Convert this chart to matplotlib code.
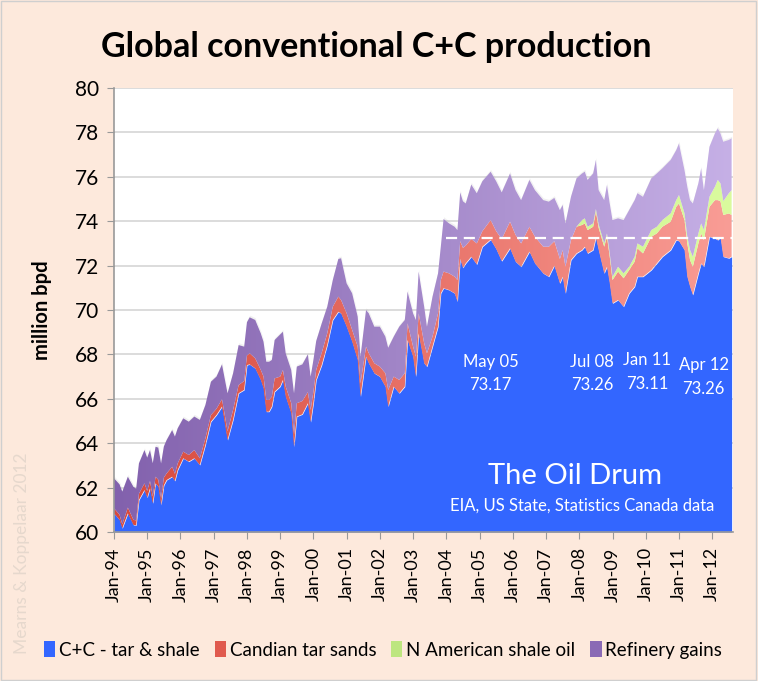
import numpy as np
import matplotlib.pyplot as plt
from matplotlib.colors import LinearSegmentedColormap
from matplotlib.patches import Patch, Rectangle

plt.rcParams['font.family'] = ['Lato', 'DejaVu Sans']

# month offsets from Jan-94, values in million bpd
months = [0, 2, 3, 5, 7, 8, 9, 11,
          12, 13, 14, 15, 16, 17, 18, 19, 21, 22, 23,
          25, 27, 29, 31, 33, 35,
          37, 39, 41, 43, 45, 47,
          48, 49, 51, 53, 54, 55, 56, 57, 58,
          60, 61, 62, 64, 65, 66, 68, 70, 71,
          72, 73, 75, 77, 79, 81, 82,
          84, 86, 88, 89, 91, 92, 94,
          96, 98, 99, 101, 103, 105, 106,
          108, 109, 110, 112, 113, 115, 117, 118, 119,
          121, 123, 124, 125, 126, 127, 129, 131,
          133, 136, 138, 140, 143,
          145, 147, 150, 152, 155,
          157, 159, 161, 162, 163, 165, 167,
          169, 170, 171, 173, 174, 175, 177, 178, 179,
          180, 182, 184, 186, 188, 189, 191,
          194, 196, 198, 201, 203,
          204, 206, 207, 208, 209, 211, 212, 213, 215,
          217, 218, 219, 220, 222, 223]

crude = [60.84, 60.55, 60.17, 60.84, 60.32, 60.30, 61.44, 61.89,
         61.55, 61.97, 61.29, 62.19, 62.05, 61.22, 62.10, 62.34, 62.49, 62.30, 62.79,
         63.32, 63.17, 63.32, 63.02, 63.92, 64.97,
         65.27, 65.65, 64.14, 65.05, 66.25, 66.40,
         67.52, 67.55, 67.37, 66.85, 66.47, 65.42, 65.42, 65.65, 66.32,
         66.55, 66.85, 66.10, 65.35, 63.84, 65.20, 65.30, 65.80, 64.95,
         65.80, 66.85, 67.52, 68.42, 69.55, 69.92, 69.85,
         69.25, 68.57, 67.75, 66.10, 67.90, 67.60, 67.15,
         67.00, 66.55, 65.65, 66.55, 66.25, 66.55, 68.65,
         67.90, 67.00, 68.95, 67.60, 67.45, 68.35, 69.25, 70.75, 70.98,
         70.90, 70.75, 70.38, 72.30, 71.90, 72.10, 72.40, 72.05,
         72.85, 73.17, 72.75, 72.20, 72.78,
         72.18, 71.95, 72.63, 72.10, 71.65,
         71.50, 72.00, 71.20, 71.50, 70.75, 72.25, 72.55,
         72.70, 72.85, 72.55, 72.70, 73.26, 72.70, 71.65, 71.95, 71.20,
         70.30, 70.45, 70.15, 70.75, 71.05, 71.50, 71.50,
         71.80, 72.10, 72.40, 72.70, 73.15,
         73.11, 72.70, 71.50, 71.05, 70.68, 71.65, 72.10, 71.95, 73.30,
         73.23, 73.15, 73.26, 72.40, 72.33, 72.40]

tar_sands = [0.23, 0.23, 0.18, 0.26, 0.23, 0.22, 0.28, 0.30,
             0.30, 0.33, 0.31, 0.30, 0.30, 0.28, 0.35, 0.30, 0.45, 0.32, 0.30,
             0.30, 0.30, 0.37, 0.30, 0.30, 0.30,
             0.28, 0.33, 0.40, 0.45, 0.37, 0.40,
             0.43, 0.50, 0.45, 0.45, 0.53, 0.53, 0.53, 0.45, 0.60,
             0.45, 0.45, 0.45, 0.45, 0.56, 0.60, 0.60, 0.50, 0.55,
             0.52, 0.45, 0.55, 0.53, 0.60, 0.68, 0.60,
             0.60, 0.53, 0.60, 0.60, 0.45, 0.45, 0.45,
             0.45, 0.60, 0.75, 0.45, 0.60, 0.60, 0.75,
             0.45, 0.90, 0.90, 0.90, 0.60, 0.45, 0.60, 0.60, 0.75,
             0.75, 0.75, 0.97, 0.80, 0.90, 0.80, 0.80, 0.95,
             0.70, 0.88, 0.80, 1.00, 1.20,
             1.20, 1.05, 1.12, 1.20, 1.20,
             1.35, 1.10, 1.10, 1.20, 1.20, 0.90, 1.20,
             1.13, 1.05, 1.05, 1.05, 1.17, 1.00, 1.20, 1.35, 1.20,
             1.05, 1.28, 1.28, 1.05, 1.13, 1.28, 1.05,
             1.50, 1.35, 1.35, 1.28, 1.50,
             1.69, 1.35, 1.50, 1.20, 1.27, 1.35, 1.35, 1.20, 1.35,
             1.72, 1.80, 1.64, 1.88, 2.02, 1.88]

shale_oil = [0.0, 0.0, 0.0, 0.0, 0.0, 0.0, 0.0, 0.0,
             0.0, 0.0, 0.0, 0.0, 0.0, 0.0, 0.0, 0.0, 0.0, 0.0, 0.0,
             0.0, 0.0, 0.0, 0.0, 0.0, 0.0,
             0.0, 0.0, 0.0, 0.0, 0.0, 0.0,
             0.0, 0.0, 0.0, 0.0, 0.0, 0.0, 0.0, 0.0, 0.0,
             0.0, 0.0, 0.0, 0.0, 0.0, 0.0, 0.0, 0.0, 0.0,
             0.0, 0.0, 0.0, 0.0, 0.0, 0.0, 0.0,
             0.0, 0.0, 0.0, 0.0, 0.0, 0.0, 0.0,
             0.0, 0.0, 0.0, 0.0, 0.0, 0.0, 0.0,
             0.0, 0.0, 0.0, 0.0, 0.0, 0.0, 0.0, 0.0, 0.0,
             0.0, 0.0, 0.0, 0.0, 0.0, 0.0, 0.0, 0.0,
             0.0, 0.0, 0.0, 0.0, 0.0,
             0.0, 0.0, 0.0, 0.0, 0.0,
             0.0, 0.0, 0.0, 0.0, 0.0, 0.0, 0.0,
             0.22, 0.23, 0.15, 0.15, 0.12, 0.15, 0.15, 0.15, 0.15,
             0.15, 0.22, 0.22, 0.15, 0.22, 0.22, 0.30,
             0.30, 0.30, 0.30, 0.37, 0.30,
             0.38, 0.30, 0.30, 0.45, 0.45, 0.45, 0.45, 0.45, 0.45,
             0.61, 0.91, 0.80, 0.62, 0.91, 1.12]

refinery = [1.35, 1.37, 1.47, 1.39, 1.49, 1.43, 1.37, 1.50,
            1.50, 1.39, 1.50, 1.35, 1.45, 1.59, 1.40, 1.50, 1.65, 1.68, 1.58,
            1.50, 1.50, 1.51, 1.73, 1.50, 1.50,
            1.45, 1.57, 1.71, 1.65, 1.80, 1.55,
            1.50, 1.62, 1.73, 1.65, 1.57, 1.72, 1.72, 1.65, 1.73,
            1.90, 1.72, 1.50, 1.50, 1.85, 1.65, 1.65, 1.70, 1.50,
            1.43, 1.30, 1.33, 1.20, 1.20, 1.70, 1.88,
            1.35, 1.65, 1.35, 1.20, 1.65, 1.80, 1.65,
            1.80, 1.65, 1.90, 1.80, 2.40, 2.40, 1.43,
            1.50, 1.65, 1.88, 1.65, 1.20, 1.80, 1.80, 1.50, 2.37,
            2.25, 2.25, 2.25, 2.20, 2.10, 1.90, 2.45, 2.26,
            2.25, 2.18, 2.25, 2.10, 2.17,
            2.02, 1.95, 2.11, 2.10, 2.10,
            2.03, 1.95, 2.20, 2.03, 1.95, 1.95, 2.18,
            2.10, 2.10, 2.11, 2.25, 2.21, 1.55, 1.95, 2.18, 2.25,
            2.55, 2.18, 2.40, 2.55, 2.55, 2.26, 2.25,
            2.33, 2.40, 2.33, 2.41, 2.25,
            2.32, 1.95, 2.26, 2.25, 2.40, 2.26, 2.48, 1.80, 2.25,
            2.40, 2.32, 2.25, 2.68, 2.40, 2.33]

year_labels = ['Jan-94', 'Jan-95', 'Jan-96', 'Jan-97', 'Jan-98', 'Jan-99', 'Jan-00',
               'Jan-01', 'Jan-02', 'Jan-03', 'Jan-04', 'Jan-05', 'Jan-06', 'Jan-07',
               'Jan-08', 'Jan-09', 'Jan-10', 'Jan-11', 'Jan-12']

# plateau notes: (label, value, month position of text, vertical nudge)
notes = [('May 05', '73.17', 135.9, 0.0),
         ('Jul 08', '73.26', 172.7, 0.0),
         ('Jan 11', '73.11', 192.6, 0.08),
         ('Apr 12', '73.26', 212.9, -0.15)]
plateau = 73.26

x = np.array(months)
lvl0 = np.array(crude)
lvl1 = lvl0 + np.array(tar_sands)
lvl2 = lvl1 + np.array(shale_oil)
lvl3 = lvl2 + np.array(refinery)

xmax = 223.5
bg = '#fde9dc'

fig = plt.figure(figsize=(7.58, 6.81), dpi=100, facecolor=bg)
ax = fig.add_axes([114 / 758, 1 - 532 / 681, (733 - 114) / 758, (532 - 88) / 681])


def band(lo, hi, c1, c2):
    poly = ax.fill_between(x, lo, hi, facecolor='none', edgecolor='none', lw=0)
    cmap = LinearSegmentedColormap.from_list('g', [c1, c2])
    grad = np.linspace(0, 1, 256).reshape(1, -1)
    im = ax.imshow(grad, cmap=cmap, extent=[0, xmax, 60, 80], aspect='auto',
                   zorder=2, interpolation='bilinear')
    im.set_clip_path(poly.get_paths()[0], transform=ax.transData)


# faint shadow under the top edge
ax.fill_between(x, lvl3, lvl3 + 0.1, color='#b0b0b0', alpha=0.18, lw=0, zorder=1.5)
ax.fill_between(x, 60, lvl0, color='#3366ff', lw=0, zorder=2)
band(lvl0, lvl1, '#d8493c', '#f99d96')
band(lvl1, lvl2, '#bde67f', '#dafb9e')
band(lvl2, lvl3, '#8261ad', '#c6b0e6')

ax.hlines(plateau, 120, xmax, colors='white', linestyles=(0, (5, 3)), lw=1.6, zorder=5)

for lab, val, m, dy in notes:
    ax.text(m, 67.68 + dy, lab, color='white', ha='center', va='center', fontsize=12, zorder=6)
    ax.text(m, 66.6 + dy, val, color='white', ha='center', va='center', fontsize=12, zorder=6)

ax.text(166.6, 62.5, 'The Oil Drum', color='white', ha='center', va='center', fontsize=21, zorder=6)
ax.text(169.1, 61.17, 'EIA, US State, Statistics Canada data', color='white',
        ha='center', va='center', fontsize=12, zorder=6)

ax.set_xlim(0, xmax)
ax.set_ylim(60, 80)
ax.set_facecolor('white')
ax.set_yticks(np.arange(60, 81, 2))
ax.set_xticks(np.arange(0, 217, 12))
ax.set_xticklabels(year_labels, rotation=90, fontsize=13)
ax.tick_params(axis='y', labelsize=15, length=5, color='#999999', pad=6)
ax.tick_params(axis='x', length=5, color='#999999', pad=6)
ax.set_axisbelow(True)
ax.yaxis.grid(True, color='#d9d9d9', lw=1.3)
for s in ['top', 'right']:
    ax.spines[s].set_visible(False)
for s in ['left', 'bottom']:
    ax.spines[s].set_color('#999999')
    ax.spines[s].set_linewidth(1.2)

fig.text(376 / 758, 1 - 47 / 681, 'Global conventional C+C production',
         ha='center', va='center', fontsize=24.5, fontweight='bold')
fig.text(42 / 758, 1 - 310 / 681, 'million bpd', rotation=90, ha='center', va='center',
         fontsize=14.5, fontweight='bold')
fig.text(22 / 758, 1 - 553 / 681, 'Mearns & Koppelaar 2012', rotation=90, ha='center',
         va='center', fontsize=12.5, color='#e6d8cd')

handles = [Patch(facecolor='#3366ff'), Patch(facecolor='#e05a4e'),
           Patch(facecolor='#bde67f'), Patch(facecolor='#8a6ab5')]
labels = ['C+C - tar & shale', 'Candian tar sands', 'N American shale oil', 'Refinery gains']
fig.legend(handles, labels, loc='center', bbox_to_anchor=(383 / 758, 1 - 650 / 681), ncol=4,
           frameon=False, fontsize=13.5, handlelength=0.6, handleheight=0.9,
           handletextpad=0.2, columnspacing=0.8)

fig.patches.append(Rectangle((0.001, 0.002), 0.996, 0.996, transform=fig.transFigure,
                             fill=False, edgecolor='#cfcfcf', lw=1))

fig.savefig('out.png', dpi=100, facecolor=bg)
